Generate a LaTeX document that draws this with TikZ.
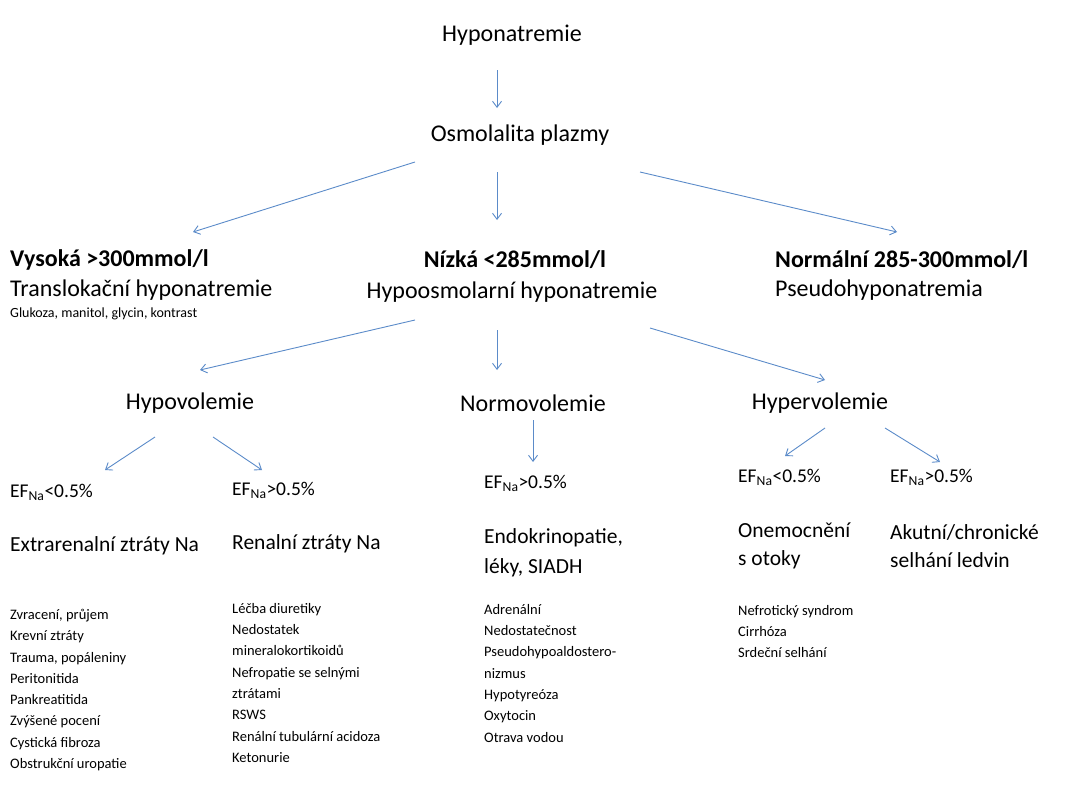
\documentclass[tikz,border=0pt]{standalone}
\usepackage{fontspec}
\setmainfont{Carlito}
\usetikzlibrary{arrows.meta}
\definecolor{arc}{HTML}{5B8BC9}
\begin{document}
\begin{tikzpicture}[x=1pt,y=-1pt,
 big/.style={font=\fontsize{24}{28}\selectfont,inner sep=0},
 bb/.style={font=\fontsize{24}{28}\selectfont\bfseries,inner sep=0},
 mid/.style={font=\fontsize{19.5}{30}\selectfont,inner sep=0,anchor=west,align=left},
 med/.style={font=\fontsize{21.5}{28}\selectfont,inner sep=0,anchor=west,align=left},
 sm/.style={font=\fontsize{14.5}{21.3}\selectfont,inner sep=0,anchor=north west,align=left},
 ar/.style={draw=arc,-{Straight Barb[length=6pt,width=9pt]},line width=0.9pt}]
\useasboundingbox (0,0) rectangle (1067,800);
\node[big] (h) at (512,35) {Hyponatremie};
\node[big] (o) at (520,135) {Osmolalita plazmy};
\coordinate (a1) at (497,70); \coordinate (a2) at (497,108);
\draw[ar] (a1)--(a2);
\coordinate (b1) at (415,162); \coordinate (b2) at (193,232);
\coordinate (b3) at (497,172); \coordinate (b4) at (497,220);
\coordinate (b5) at (640,172); \coordinate (b6) at (897,232);
\draw[ar] (b1)--(b2); \draw[ar] (b3)--(b4); \draw[ar] (b5)--(b6);
\node[bb,anchor=west] (v) at (10,260) {Vysoká >300mmol/l};
\node[big,anchor=west] (vt) at (10,290) {Translokační hyponatremie};
\node[font=\fontsize{14}{15}\selectfont,inner sep=0,anchor=west] (vg) at (10,314) {Glukoza, manitol, glycin, kontrast};
\node[bb] (n) at (515,260) {Nízká <285mmol/l};
\node[big] (nh) at (512,292) {Hypoosmolarní hyponatremie};
\node[bb,anchor=west] (nn) at (775,260) {Normální 285-300mmol/l};
\node[big,anchor=west] (np) at (775,290) {Pseudohyponatremia};
\coordinate (c1) at (415,320); \coordinate (c2) at (200,370);
\coordinate (c3) at (497,330); \coordinate (c4) at (497,370);
\coordinate (c5) at (650,328); \coordinate (c6) at (825,380);
\draw[ar] (c1)--(c2); \draw[ar] (c3)--(c4); \draw[ar] (c5)--(c6);
\node[big] (hypo) at (190,403) {Hypovolemie};
\node[big] (normo) at (533,403) {Normovolemie};
\node[big] (hyper) at (820,403) {Hypervolemie};
\coordinate (d1) at (155,437); \coordinate (d2) at (105,470);
\coordinate (d3) at (213,437); \coordinate (d4) at (262,470);
\coordinate (d5) at (533,420); \coordinate (d6) at (533,462);
\coordinate (d7) at (825,428); \coordinate (d8) at (785,456);
\coordinate (d9) at (885,428); \coordinate (d10) at (940,462);
\draw[ar] (d1)--(d2); \draw[ar] (d3)--(d4); \draw[ar] (d5)--(d6);
\draw[ar] (d7)--(d8); \draw[ar] (d9)--(d10);
\node[mid] (e1) at (10,492) {EF\textsubscript{Na}<0.5\%};
\node[mid] (e2) at (232,490) {EF\textsubscript{Na}>0.5\%};
\node[mid] (e3) at (484,483) {EF\textsubscript{Na}>0.5\%};
\node[mid] (e4) at (738,477) {EF\textsubscript{Na}<0.5\%};
\node[mid] (e5) at (890,477) {EF\textsubscript{Na}>0.5\%};
\node[med] (t1) at (10,546) {Extrarenalní ztráty Na};
\node[med] (t2) at (232,544) {Renalní ztráty Na};
\node[med,font=\fontsize{21.5}{30}\selectfont] (t3) at (484,553) {Endokrinopatie,\\léky, SIADH};
\node[med] (t4) at (738,546) {Onemocnění\\s otoky};
\node[med] (t5) at (890,546) {Akutní/chronické\\selhání ledvin};
\node[sm] (l1) at (10,609) {Zvracení, průjem\\Krevní ztráty\\Trauma, popáleniny\\Peritonitida\\Pankreatitida\\Zvýšené pocení\\Cystická fibroza\\Obstrukční uropatie};
\node[sm] (l2) at (232,603) {Léčba diuretiky\\Nedostatek\\mineralokortikoidů\\Nefropatie se selnými\\ztrátami\\RSWS\\Renální tubulární acidoza\\Ketonurie};
\node[sm] (l3) at (484,604) {Adrenální\\Nedostatečnost\\Pseudohypoaldostero-\\nizmus\\Hypotyreóza\\Oxytocin\\Otrava vodou};
\node[sm] (l4) at (738,605) {Nefrotický syndrom\\Cirrhóza\\Srdeční selhání};
\end{tikzpicture}
\end{document}
